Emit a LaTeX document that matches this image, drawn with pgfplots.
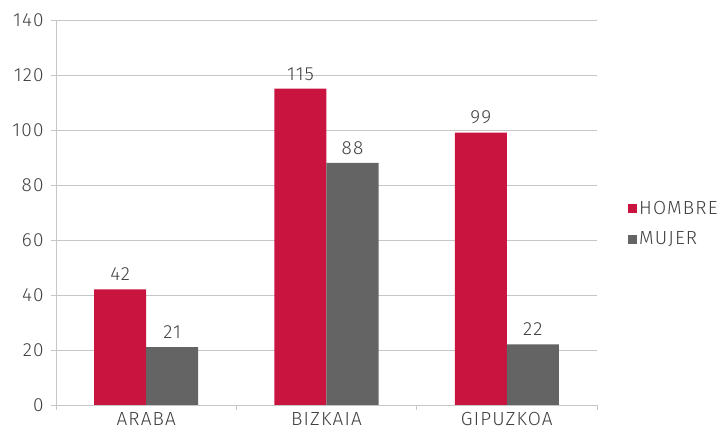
\documentclass[border=0pt]{standalone}
\usepackage{fontspec}
\setmainfont{Fira Sans Light}[LetterSpace=6]
\usepackage{pgfplots}
\pgfplotsset{compat=1.18}
\definecolor{hombre}{HTML}{C8143F}
\definecolor{mujer}{HTML}{646464}
\definecolor{txt}{HTML}{404040}
\definecolor{gridc}{HTML}{C6C6C6}
\newcommand{\cf}{\fontsize{19}{22}\selectfont}
\begin{document}
\begin{tikzpicture}
\useasboundingbox (-56pt,-28pt) rectangle (668pt,405pt);
\begin{axis}[
  at={(0,0)}, anchor=south west,
  scale only axis, width=541pt, height=385pt,
  ymin=0, ymax=140, xmin=-0.5, xmax=2.5,
  ytick={0,20,...,140},
  xtick={0,1,2}, xticklabels={ARABA,BIZKAIA,GIPUZKOA},
  minor xtick={-0.5,0.5,1.5,2.5},
  ymajorgrids, grid style={gridc, line width=0.8pt},
  axis x line*=bottom, axis y line*=left,
  axis line style={gridc, line width=0.8pt, -},
  tick align=outside, major tick length=5pt, minor tick length=5pt,
  tick style={gridc, line width=0.8pt},
  major x tick style={draw=none},
  ticklabel style={font=\cf, text=txt},
  /pgf/number format/assume math mode=true,
  yticklabel style={xshift=-4pt},
  xticklabel style={yshift=1pt},
  ybar=0pt, bar width=52pt,
  nodes near coords,
  nodes near coords style={font=\cf, text=txt, yshift=5pt},
  legend style={at={(axis description cs:1,0.471)}, anchor=west, xshift=31pt,
    draw=none, fill=none, inner sep=0pt, font=\cf, text=txt, row sep=12pt},
  legend cell align=left,
  legend image code/.code={\fill[#1,draw=none] (0pt,-4.5pt) rectangle (9pt,4.5pt);},
]
\addplot[fill=hombre, draw=none] coordinates {(0,42) (1,115) (2,99)};
\addplot[fill=mujer, draw=none] coordinates {(0,21) (1,88) (2,22)};
\legend{HOMBRE,MUJER}
\end{axis}
\end{tikzpicture}
\end{document}
